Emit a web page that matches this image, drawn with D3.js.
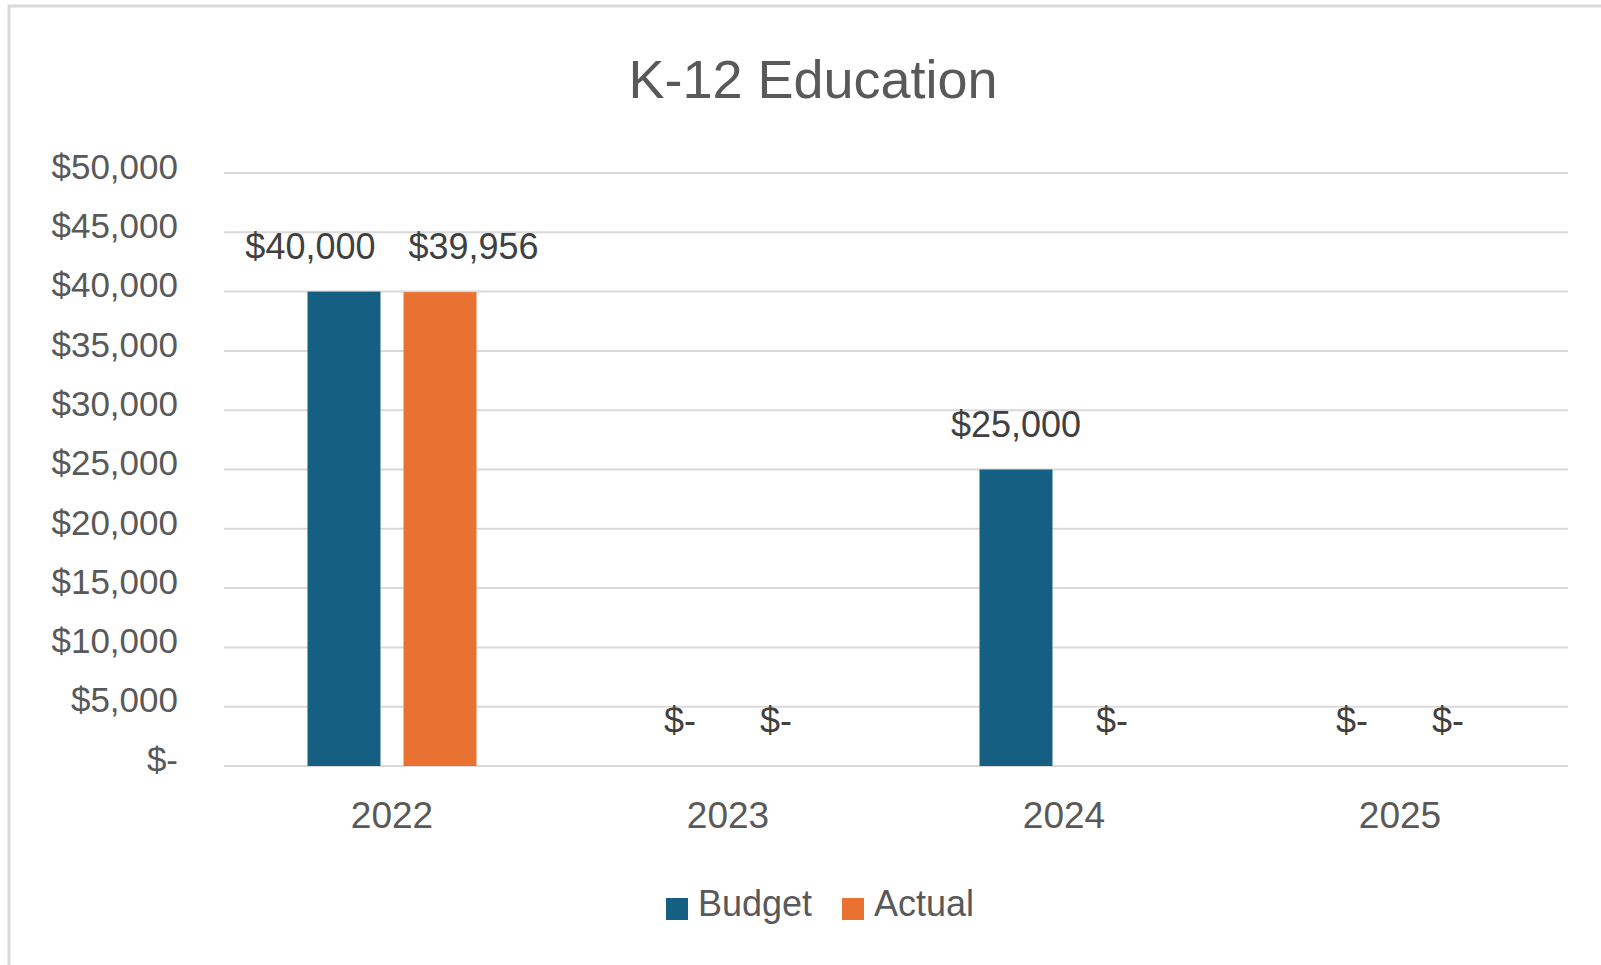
<!DOCTYPE html>
<html>
<head>
<meta charset="utf-8">
<script src="https://cdn.jsdelivr.net/npm/d3@7"></script>
<style>
body { margin: 0; background: #fff; }
text { font-family: "Liberation Sans", Arial, sans-serif; }
</style>
</head>
<body>
<script>
var years = ["2022", "2023", "2024", "2025"];
var series = ["Budget", "Actual"];
var budget = [40000, 0, 25000, 0];
var actual = [39956, 0, 0, 0];
var yTicks = [0, 5000, 10000, 15000, 20000, 25000, 30000, 35000, 40000, 45000, 50000];
var colors = ["#156082", "#E97132"];

function money(v) {
	if (v === 0) return "$-";
	return "$" + d3.format(",")(v);
}

var svg = d3.select("body").append("svg").attr("width", 1601).attr("height", 965);

// chart border (cropped at right and bottom)
svg.append("rect").attr("x", 9).attr("y", 6).attr("width", 1700).attr("height", 1000)
	.attr("fill", "none").attr("stroke", "#D9D9D9").attr("stroke-width", 3);

var plotLeft = 224, plotRight = 1568, plotTop = 173, plotBottom = 766;

var y = d3.scaleLinear().domain([0, 50000]).range([plotBottom, plotTop]);
var x0 = d3.scaleBand().domain(years).range([plotLeft, plotRight]).paddingInner(0.497).paddingOuter(0.2485);
var x1 = d3.scaleBand().domain(series).range([0, x0.bandwidth()]).paddingInner(0.24);

// gridlines
svg.append("g").selectAll("line").data(yTicks).enter().append("line")
	.attr("x1", plotLeft).attr("x2", plotRight)
	.attr("y1", function(d) { return y(d); }).attr("y2", function(d) { return y(d); })
	.attr("stroke", "#D9D9D9").attr("stroke-width", 2);

// y axis labels
var yAxis = svg.append("g").attr("transform", "translate(" + plotLeft + ",0)")
	.call(d3.axisLeft(y).tickValues(yTicks).tickSize(0).tickPadding(46).tickFormat(money));
yAxis.select(".domain").remove();
yAxis.selectAll("text").attr("font-size", 35).attr("fill", "#595959").attr("dy", "0.15em")
	.style("font-family", "Liberation Sans, Arial, sans-serif");

// x axis labels
var xAxis = svg.append("g").attr("transform", "translate(0," + plotBottom + ")")
	.call(d3.axisBottom(x0).tickSize(0).tickPadding(36));
xAxis.select(".domain").remove();
xAxis.selectAll("text").attr("font-size", 37).attr("fill", "#595959")
	.style("font-family", "Liberation Sans, Arial, sans-serif");

// bars
var rows = years.map(function(yr, i) {
	return { year: yr, vals: [budget[i], actual[i]] };
});

var groups = svg.append("g").selectAll("g").data(rows).enter().append("g")
	.attr("transform", function(d) { return "translate(" + x0(d.year) + ",0)"; });

groups.selectAll("rect").data(function(d) { return d.vals; }).enter().append("rect")
	.attr("x", function(d, i) { return x1(series[i]); })
	.attr("width", x1.bandwidth())
	.attr("y", function(d) { return y(d); })
	.attr("height", function(d) { return plotBottom - y(d); })
	.attr("fill", function(d, i) { return colors[i]; });

groups.each(function(d) {
	var g = d3.select(this);
	var labels = g.selectAll("text.val").data(d.vals).enter().append("text")
		.attr("class", "val")
		.attr("x", function(v, i) { return x1(series[i]) + x1.bandwidth() / 2; })
		.attr("y", function(v) { return y(v) - 33; })
		.attr("text-anchor", "middle")
		.attr("font-size", 36)
		.attr("fill", "#404040")
		.text(function(v) { return money(v); });

	// push the two labels apart when they would collide (like Excel does)
	var nodes = labels.nodes();
	var w0 = nodes[0].getComputedTextLength(), w1 = nodes[1].getComputedTextLength();
	var c0 = x1(series[0]) + x1.bandwidth() / 2, c1 = x1(series[1]) + x1.bandwidth() / 2;
	var sameRow = Math.abs(y(d.vals[0]) - y(d.vals[1])) < 30;
	var overlap = (c0 + w0 / 2 + 33) - (c1 - w1 / 2);
	if (sameRow && overlap > 0) {
		d3.select(nodes[0]).attr("x", c0 - overlap / 2);
		d3.select(nodes[1]).attr("x", c1 + overlap / 2);
	}
});

// title
svg.append("text").attr("x", 813).attr("y", 98).attr("text-anchor", "middle")
	.attr("font-size", 54).attr("fill", "#595959").text("K-12 Education");

// legend
var legendX = [666, 842];
var legend = svg.append("g").selectAll("g").data(series).enter().append("g");
legend.append("rect")
	.attr("x", function(d, i) { return legendX[i]; })
	.attr("y", 898).attr("width", 22).attr("height", 22)
	.attr("fill", function(d, i) { return colors[i]; });
legend.append("text")
	.attr("x", function(d, i) { return legendX[i] + 32; })
	.attr("y", 916)
	.attr("font-size", 36).attr("fill", "#595959")
	.text(function(d) { return d; });
</script>
</body>
</html>
